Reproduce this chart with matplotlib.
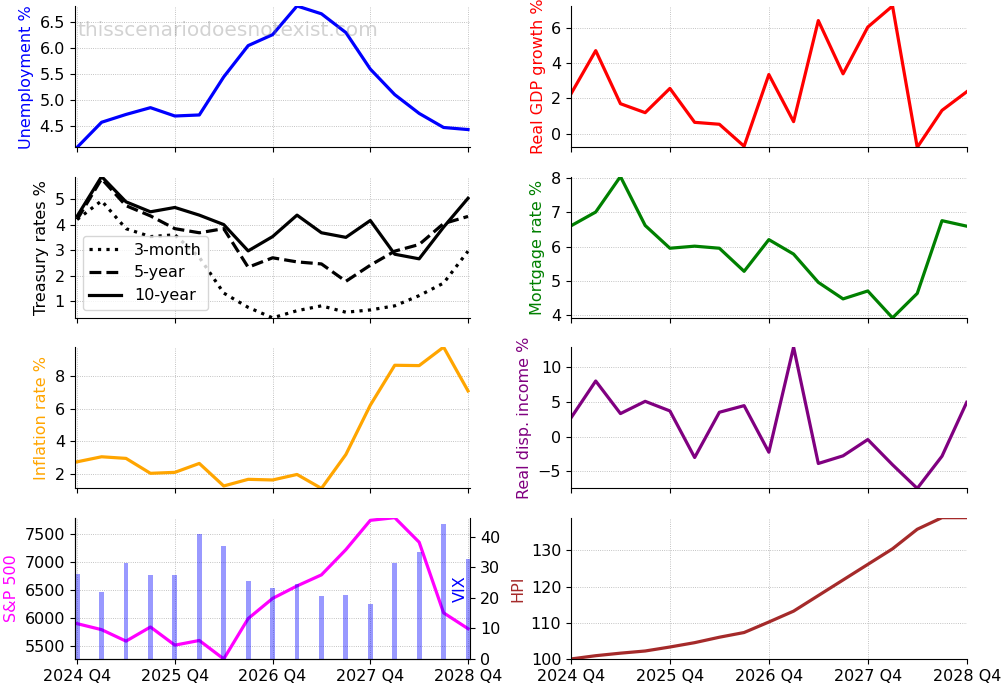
import matplotlib
matplotlib.use('Agg')
import matplotlib.pyplot as plt
from matplotlib.ticker import MaxNLocator
import numpy as np

# Quarters 2024 Q4 .. 2028 Q4
quarters = ['2024 Q4', '2025 Q1', '2025 Q2', '2025 Q3', '2025 Q4', '2026 Q1', '2026 Q2', '2026 Q3',
            '2026 Q4', '2027 Q1', '2027 Q2', '2027 Q3', '2027 Q4', '2028 Q1', '2028 Q2', '2028 Q3',
            '2028 Q4']
tick_labels = ['2024 Q4', '2025 Q4', '2026 Q4', '2027 Q4', '2028 Q4']

unemployment = [4.1, 4.58, 4.73, 4.86, 4.70, 4.72, 5.45, 6.05, 6.26, 6.81, 6.66, 6.30,
                5.60, 5.11, 4.75, 4.48, 4.44]
t3m = [4.2, 4.93, 3.84, 3.53, 3.6, 2.72, 1.32, 0.76, 0.35, 0.63, 0.82, 0.57, 0.66, 0.82,
       1.22, 1.71, 2.96]
t5y = [4.2, 5.79, 4.74, 4.34, 3.84, 3.68, 3.84, 2.33, 2.70, 2.54, 2.46, 1.78, 2.41, 2.96,
       3.22, 4.04, 4.32]
t10y = [4.33, 5.88, 4.89, 4.50, 4.67, 4.37, 4.0, 2.97, 3.53, 4.37, 3.68, 3.50, 4.16, 2.84,
        2.66, 3.90, 5.03]
inflation = [2.73, 3.04, 2.94, 2.02, 2.08, 2.63, 1.24, 1.65, 1.61, 1.95, 1.09, 3.18, 6.22,
             8.68, 8.66, 9.80, 7.10]
sp500 = [5899, 5791, 5585, 5839, 5513, 5597, 5265, 5990, 6352, 6576, 6775, 7228, 7754,
         7802, 7361, 6093, 5809]
vix = [27.8, 22.0, 31.4, 27.5, 27.5, 40.9, 37.0, 25.5, 23.3, 24.6, 20.7, 21.0, 18.0, 31.4,
       35.0, 44.1, 32.7]
gdp = [2.26, 4.72, 1.70, 1.19, 2.57, 0.64, 0.53, -0.72, 3.36, 0.68, 6.43, 3.40, 6.06, 7.26,
       -0.78, 1.32, 2.38]
mortgage = [6.60, 7.0, 8.03, 6.61, 5.95, 6.01, 5.95, 5.28, 6.20, 5.78, 4.96, 4.48, 4.71,
            3.93, 4.64, 6.75, 6.59]
income = [2.68, 7.98, 3.30, 5.06, 3.68, -3.01, 3.49, 4.44, -2.25, 12.85, -3.87, -2.77,
          -0.43, -4.05, -7.45, -2.82, 4.92]
hpi = [100.0, 100.9, 101.6, 102.2, 103.3, 104.5, 106.0, 107.3, 110.2, 113.2, 117.5, 121.8,
       126.1, 130.4, 135.8, 139.0, 139.0]

plt.rcParams['font.size'] = 11.5

x = np.arange(len(quarters))
bar_w = 0.2

fig, axes = plt.subplots(4, 2, figsize=(10.07, 6.88), dpi=100, sharex='col')
fig.subplots_adjust(left=0.0742, right=0.96, top=0.9913, bottom=0.0422,
                    wspace=0.254, hspace=0.207)


def y_locator():
    return MaxNLocator(nbins=6, steps=[1, 2, 2.5, 5, 10])


def style(ax, ylabel, color):
    ax.set_ylabel(ylabel, color=color)
    ax.grid(True, linestyle=':', linewidth=0.6, color='#b0b0b0')
    ax.spines['top'].set_visible(False)
    ax.spines['right'].set_visible(False)
    ax.margins(y=0)
    ax.yaxis.set_major_locator(y_locator())


lw = 2.3

ax = axes[0, 0]
ax.plot(x, unemployment, color='blue', lw=lw)
style(ax, 'Unemployment %', 'blue')
ax.text(0.008, 0.83, 'thisscenariodoesnotexist.com', transform=ax.transAxes,
        fontsize=14.5, color='gray', alpha=0.35, ha='left', va='center')

ax = axes[1, 0]
ax.plot(x, t3m, color='black', lw=lw, linestyle=':', label='3-month')
ax.plot(x, t5y, color='black', lw=lw, linestyle='--', label='5-year')
ax.plot(x, t10y, color='black', lw=lw, linestyle='-', label='10-year')
style(ax, 'Treasury rates %', 'black')
ax.legend(loc='lower left')

ax = axes[2, 0]
ax.plot(x, inflation, color='orange', lw=lw)
style(ax, 'Inflation rate %', 'orange')

ax = axes[3, 0]
ax.plot(x, sp500, color='magenta', lw=lw)
style(ax, 'S&P 500', 'magenta')
ax2 = ax.twinx()
ax2.bar(x, vix, width=bar_w, color='blue', alpha=0.4)
ax2.set_ylabel('VIX', color='blue')
ax2.yaxis.set_label_coords(0.955, 0.5)
ax2.spines['top'].set_visible(False)
ax2.set_ylim(0, max(vix) * 1.05)
ax2.yaxis.set_major_locator(y_locator())

ax = axes[0, 1]
ax.plot(x, gdp, color='red', lw=lw)
style(ax, 'Real GDP growth %', 'red')

ax = axes[1, 1]
ax.plot(x, mortgage, color='green', lw=lw)
style(ax, 'Mortgage rate %', 'green')

ax = axes[2, 1]
ax.plot(x, income, color='purple', lw=lw)
style(ax, 'Real disp. income %', 'purple')

ax = axes[3, 1]
ax.plot(x, hpi, color='brown', lw=lw)
style(ax, 'HPI', 'brown')

for col in range(2):
    a = axes[3, col]
    a.set_xticks(x[::4])
    a.set_xticklabels(tick_labels)
axes[3, 0].set_xlim(x[0] - bar_w / 2, x[-1] + bar_w / 2)
axes[3, 1].set_xlim(x[0], x[-1])

fig.savefig('out.png', dpi=100)
